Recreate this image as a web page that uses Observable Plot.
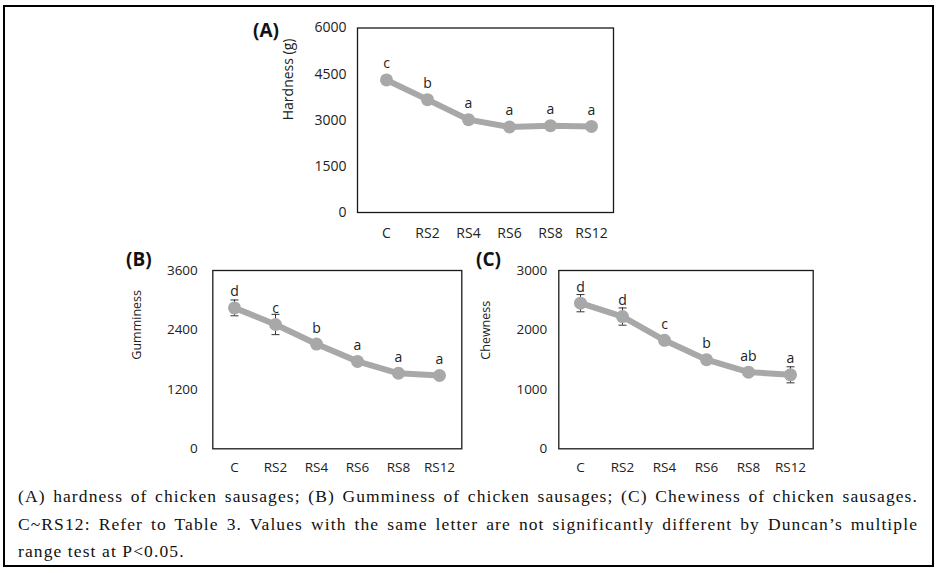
<!DOCTYPE html>
<html>
<head>
<meta charset="utf-8">
<script src="https://cdn.jsdelivr.net/npm/d3@7"></script>
<script src="https://cdn.jsdelivr.net/npm/@observablehq/plot@0.6"></script>
<style>
  html, body { margin: 0; padding: 0; background: #fff; }
  #root { position: relative; width: 939px; height: 573px; overflow: hidden; }
  #border { position: absolute; left: 3px; top: 5px; width: 931px; height: 562px; box-sizing: border-box; border: 2px solid #000; }
  .panel { position: absolute; }
  .plabel { position: absolute; font-family: "Open Sans", sans-serif; font-weight: 700; font-size: 19px; line-height: 19px; color: #111; }
  #caption { position: absolute; left: 18px; top: 483px; width: 900px;
    font-family: "Liberation Serif", serif; font-size: 17.5px; letter-spacing: 1.1px; line-height: 27.5px; color: #111; }
  #caption div { white-space: nowrap; }
  #caption .j { text-align: justify; text-align-last: justify; }
</style>
</head>
<body>
<div id="root">
  <div id="border"></div>
  <div class="plabel" style="left:253px;top:21px">(A)</div>
  <div class="plabel" style="left:126px;top:250px">(B)</div>
  <div class="plabel" style="left:476px;top:250px">(C)</div>
  <div id="panelA" class="panel" style="left:230px;top:10px"></div>
  <div id="panelB" class="panel" style="left:115px;top:255px"></div>
  <div id="panelC" class="panel" style="left:470px;top:255px"></div>
  <div id="caption">
    <div class="j">(A) hardness of chicken sausages; (B) Gumminess of chicken sausages; (C) Chewiness of chicken sausages.</div>
    <div class="j">C~RS12: Refer to Table 3. Values with the same letter are not significantly different by Duncan’s multiple</div>
    <div>range test at P&lt;0.05.</div>
  </div>
</div>
<script>
const cats = ["C", "RS2", "RS4", "RS6", "RS8", "RS12"];

const hardness = [4310, 3670, 3020, 2780, 2825, 2800];
const hardnessErr = [60, 60, 60, 90, 60, 50];
const hardnessLetters = ["c", "b", "a", "a", "a", "a"];
const hardnessTicks = [0, 1500, 3000, 4500, 6000];

const gumminess = [2845, 2510, 2115, 1765, 1525, 1480];
const gumminessErr = [160, 205, 50, 50, 40, 50];
const gumminessLetters = ["d", "c", "b", "a", "a", "a"];
const gumminessTicks = [0, 1200, 2400, 3600];

const chewiness = [2450, 2225, 1825, 1500, 1290, 1245];
const chewinessErr = [145, 145, 50, 50, 40, 135];
const chewinessLetters = ["d", "d", "c", "b", "ab", "a"];
const chewinessTicks = [0, 1000, 2000, 3000];

const cap = { draw(ctx) { ctx.moveTo(-4, 0); ctx.lineTo(4, 0); } };

function panel(o) {
  const data = cats.map((c, i) => ({
    cat: c, v: o.values[i], lo: o.values[i] - o.errs[i], hi: o.values[i] + o.errs[i], letter: o.letters[i]
  }));
  return Plot.plot({
    width: o.width, height: o.height,
    marginLeft: o.ml, marginRight: o.mr, marginTop: o.mt, marginBottom: o.mb,
    style: { fontFamily: "'Open Sans', sans-serif", fontSize: o.tickFont + "px", color: "#222", background: "transparent", overflow: "visible" },
    x: { type: "point", domain: cats, padding: o.padding, align: o.align },
    y: { domain: [0, o.ticks[o.ticks.length - 1]] },
    marks: [
      Plot.frame({ stroke: "#1a1a1a", strokeWidth: 1.3 }),
      Plot.axisY({ ticks: o.ticks, tickFormat: d => String(d), tickSize: 0, tickPadding: o.padY, label: null }),
      Plot.axisX({ tickSize: 0, tickPadding: o.padX, label: null }),
      Plot.ruleX(data, { x: "cat", y1: "lo", y2: "hi", stroke: "#333", strokeWidth: 1 }),
      Plot.dot(data, { x: "cat", y: "hi", symbol: cap, fill: "none", stroke: "#333", strokeWidth: 1 }),
      Plot.dot(data, { x: "cat", y: "lo", symbol: cap, fill: "none", stroke: "#333", strokeWidth: 1 }),
      Plot.line(data, { x: "cat", y: "v", stroke: "#a8a8a8", strokeWidth: 6, strokeLinejoin: "round" }),
      Plot.dot(data, { x: "cat", y: "v", r: 6.5, fill: "#a8a8a8", stroke: "none" }),
      Plot.text(data, { x: "cat", y: "v", text: "letter", dy: -16, fontSize: 14, fill: "#222" }),
      Plot.text([o.label], { frameAnchor: "left", text: d => d, rotate: -90, dx: o.labelDx, fontSize: o.labelSize, fill: "#222" })
    ]
  });
}

document.getElementById("panelA").append(panel({
  values: hardness, errs: hardnessErr, letters: hardnessLetters, ticks: hardnessTicks,
  label: "Hardness (g)", labelSize: 14, tickFont: 14,
  width: 400, height: 240, ml: 127, mr: 17, mt: 17.5, mb: 38,
  padding: 0.55, align: 0.56, padY: 11, padX: 16, labelDx: -69
}));

document.getElementById("panelB").append(panel({
  values: gumminess, errs: gumminessErr, letters: gumminessLetters, ticks: gumminessTicks,
  label: "Gumminess", labelSize: 12.5, tickFont: 13.5,
  width: 360, height: 230, ml: 97.3, mr: 13.7, mt: 15, mb: 36.7,
  padding: 0.5, align: 0.5, padY: 15, padX: 13.5, labelDx: -75.6
}));

document.getElementById("panelC").append(panel({
  values: chewiness, errs: chewinessErr, letters: chewinessLetters, ticks: chewinessTicks,
  label: "Chewness", labelSize: 12.5, tickFont: 13.5,
  width: 360, height: 230, ml: 88.3, mr: 17.3, mt: 15, mb: 36.7,
  padding: 0.5, align: 0.5, padY: 11.5, padX: 13.5, labelDx: -73.3
}));
</script>
</body>
</html>
